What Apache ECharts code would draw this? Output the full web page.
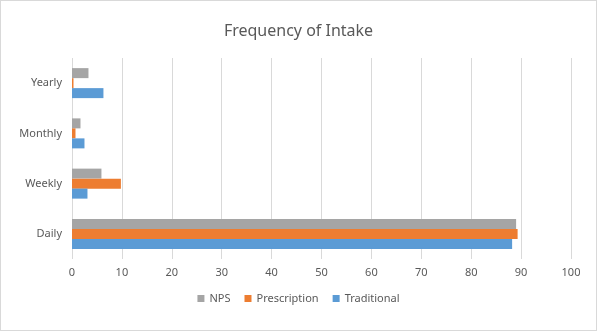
<!DOCTYPE html>
<html>
<head>
<meta charset="utf-8">
<script src="https://cdn.jsdelivr.net/npm/echarts@6/dist/echarts.min.js"></script>
<style>
	html, body { margin: 0; padding: 0; background: #fff; }
	#chart { width: 595px; height: 329px; border: 1px solid #d9d9d9; }
</style>
</head>
<body>
<div id="chart"></div>
<script>
	var categories = ['Daily', 'Weekly', 'Monthly', 'Yearly'];
	var traditional = [88.2, 3.1, 2.5, 6.3];
	var prescription = [89.3, 9.8, 0.7, 0.3];
	var nps = [89.0, 5.9, 1.7, 3.3];
	var fontColor = '#595959';
	var fontName = 'Noto Sans';

	var option = {
		animation: false,
		title: {
			text: 'Frequency of Intake',
			left: 'center',
			top: 17,
			textStyle: {
				color: fontColor,
				fontFamily: fontName,
				fontSize: 16,
				fontWeight: 'normal'
			}
		},
		legend: {
			data: ['NPS', 'Prescription', 'Traditional'],
			bottom: 21,
			left: 'center',
			icon: 'rect',
			itemWidth: 7,
			itemHeight: 7,
			itemGap: 14,
			textStyle: {
				color: fontColor,
				fontFamily: fontName,
				fontSize: 11
			}
		},
		grid: {
			left: 71,
			right: 25,
			top: 57,
			bottom: 71,
			containLabel: false
		},
		xAxis: {
			type: 'value',
			min: 0,
			max: 100,
			interval: 10,
			axisLine: { show: false },
			axisTick: { show: false },
			axisLabel: {
				color: fontColor,
				fontFamily: fontName,
				fontSize: 11,
				margin: 8
			},
			splitLine: {
				show: true,
				lineStyle: { color: '#d9d9d9' }
			}
		},
		yAxis: {
			type: 'category',
			data: categories,
			axisLine: { show: false },
			axisTick: { show: false },
			axisLabel: {
				color: fontColor,
				fontFamily: fontName,
				fontSize: 11,
				margin: 10
			}
		},
		series: [{
			name: 'NPS',
			type: 'bar',
			data: nps,
			barWidth: 10,
			barGap: '0%',
			barCategoryGap: '40%',
			itemStyle: { color: '#a5a5a5' }
		}, {
			name: 'Prescription',
			type: 'bar',
			data: prescription,
			barWidth: 10,
			barGap: '0%',
			itemStyle: { color: '#ed7d31' }
		}, {
			name: 'Traditional',
			type: 'bar',
			data: traditional,
			barWidth: 10,
			barGap: '0%',
			itemStyle: { color: '#5b9bd5' }
		}]
	};
	var myChart = echarts.init(document.getElementById('chart'));
	myChart.setOption(option);
</script>
</body>
</html>
